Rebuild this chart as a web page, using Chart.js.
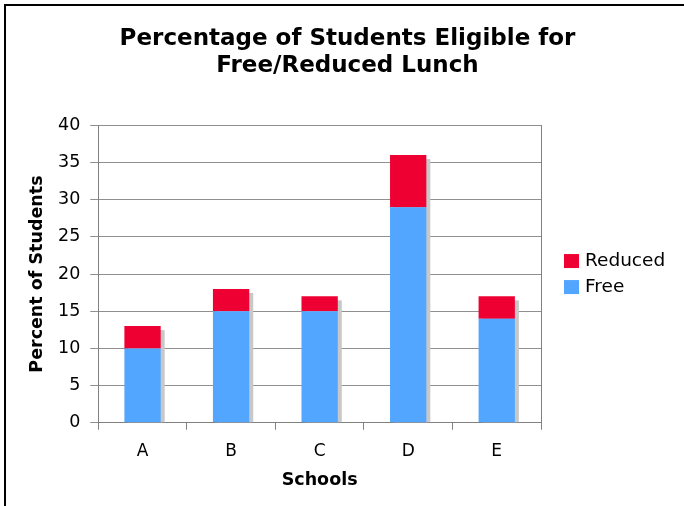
<!DOCTYPE html>
<html>
<head>
<meta charset="utf-8">
<script src="https://cdn.jsdelivr.net/npm/chart.js@4/dist/chart.umd.min.js"></script>
<style>
  html, body { margin: 0; padding: 0; background: #fff; }
  #caixa { width: 684px; height: 506px; position: relative; }
</style>
</head>
<body>
<div id="caixa"><canvas id="graficoAlmoco"></canvas></div>
<script>
// dados do grafico
const escolas = ['A', 'B', 'C', 'D', 'E'];
const percentualGratuito = [10, 15, 15, 29, 14];
const percentualReduzido = [3, 3, 2, 7, 3];
const ticksY = [0, 5, 10, 15, 20, 25, 30, 35, 40];

const fonte = "'DejaVu Sans', Verdana, sans-serif";

// sombra cinza atras de cada pilha de barras
const sombraBarras = {
    id: 'sombraBarras',
    beforeDatasetsDraw(chart) {
        const ctx = chart.ctx;
        const base = chart.getDatasetMeta(0).data;
        const topo = chart.getDatasetMeta(1).data;
        ctx.save();
        ctx.fillStyle = '#c8c8c8';
        base.forEach(function (barra, i) {
            const y = topo[i].y;
            const fundo = barra.base;
            ctx.fillRect(barra.x - barra.width / 2 + 4, y + 4, barra.width, fundo - y - 4);
        });
        ctx.restore();
    }
};

// legenda ao lado da area e moldura preta da pagina
const moldura = {
    id: 'moldura',
    afterDraw(chart) {
        const ctx = chart.ctx;
        const area = chart.chartArea;
        ctx.save();

        // legenda: Reduced em cima, Free embaixo
        const itens = chart.data.datasets.slice().reverse();
        const xCaixa = area.right + 23;
        let yLinha = (area.top + area.bottom) / 2 - 13;
        ctx.font = '18.5px ' + fonte;
        ctx.textAlign = 'left';
        ctx.textBaseline = 'middle';
        itens.forEach(function (ds) {
            ctx.fillStyle = ds.backgroundColor;
            ctx.fillRect(xCaixa, yLinha - 7, 15, 14);
            ctx.fillStyle = '#000';
            ctx.fillText(ds.label, xCaixa + 21, yLinha);
            yLinha += 26;
        });

        ctx.strokeStyle = '#000';
        ctx.lineWidth = 2;
        ctx.beginPath();
        ctx.moveTo(5, 506);
        ctx.lineTo(5, 5);
        ctx.lineTo(684, 5);
        ctx.stroke();
        ctx.restore();
    }
};

const dataAlmoco = {
    labels: escolas,
    datasets: [{
        label: 'Free',
        data: percentualGratuito,
        backgroundColor: '#53a6ff',
        barPercentage: 0.41,
        categoryPercentage: 1
    }, {
        label: 'Reduced',
        data: percentualReduzido,
        backgroundColor: '#ef0032',
        barPercentage: 0.41,
        categoryPercentage: 1
    }]
};

const config = {
    type: 'bar',
    data: dataAlmoco,
    plugins: [sombraBarras, moldura],
    options: {
        responsive: true,
        maintainAspectRatio: false,
        animation: false,
        layout: {
            padding: { left: 27, right: 16, top: 18, bottom: 13.5 }
        },
        plugins: {
            title: {
                display: true,
                text: ['Percentage of Students Eligible for', 'Free/Reduced Lunch'],
                color: '#000',
                font: { family: fonte, size: 23, weight: 'bold', lineHeight: 1.16 },
                padding: { top: 8, bottom: 46 }
            },
            legend: { display: false },
            tooltip: { enabled: false }
        },
        scales: {
            x: {
                stacked: true,
                grid: {
                    offset: true,
                    drawOnChartArea: false,
                    tickLength: 7,
                    color: '#808080'
                },
                border: { color: '#808080' },
                ticks: {
                    color: '#000',
                    padding: 13,
                    font: { family: fonte, size: 17, lineHeight: 1 }
                },
                title: {
                    display: true,
                    text: 'Schools',
                    color: '#000',
                    font: { family: fonte, size: 17.5, weight: 'bold', lineHeight: 0.9 },
                    padding: { top: 0, bottom: 4 }
                }
            },
            y: {
                stacked: true,
                min: 0,
                max: 40,
                afterBuildTicks(eixo) {
                    eixo.ticks = ticksY.map(v => ({ value: v }));
                },
                grid: {
                    color: '#909090',
                    tickLength: 8
                },
                border: { color: '#808080' },
                ticks: {
                    color: '#000',
                    padding: 10,
                    font: { family: fonte, size: 17.5 }
                },
                title: {
                    display: true,
                    text: 'Percent of Students',
                    color: '#000',
                    font: { family: fonte, size: 17.5, weight: 'bold' },
                    padding: { top: 0, bottom: 0 }
                }
            },
            // eixo vazio a direita: fecha a area do grafico e guarda lugar para a legenda
            direita: {
                position: 'right',
                min: 0,
                max: 40,
                grid: { drawOnChartArea: false, drawTicks: false },
                border: { color: '#808080' },
                ticks: { display: false },
                afterFit(eixo) {
                    eixo.width = 127;
                }
            }
        }
    }
};

new Chart(document.getElementById('graficoAlmoco'), config);
</script>
</body>
</html>
